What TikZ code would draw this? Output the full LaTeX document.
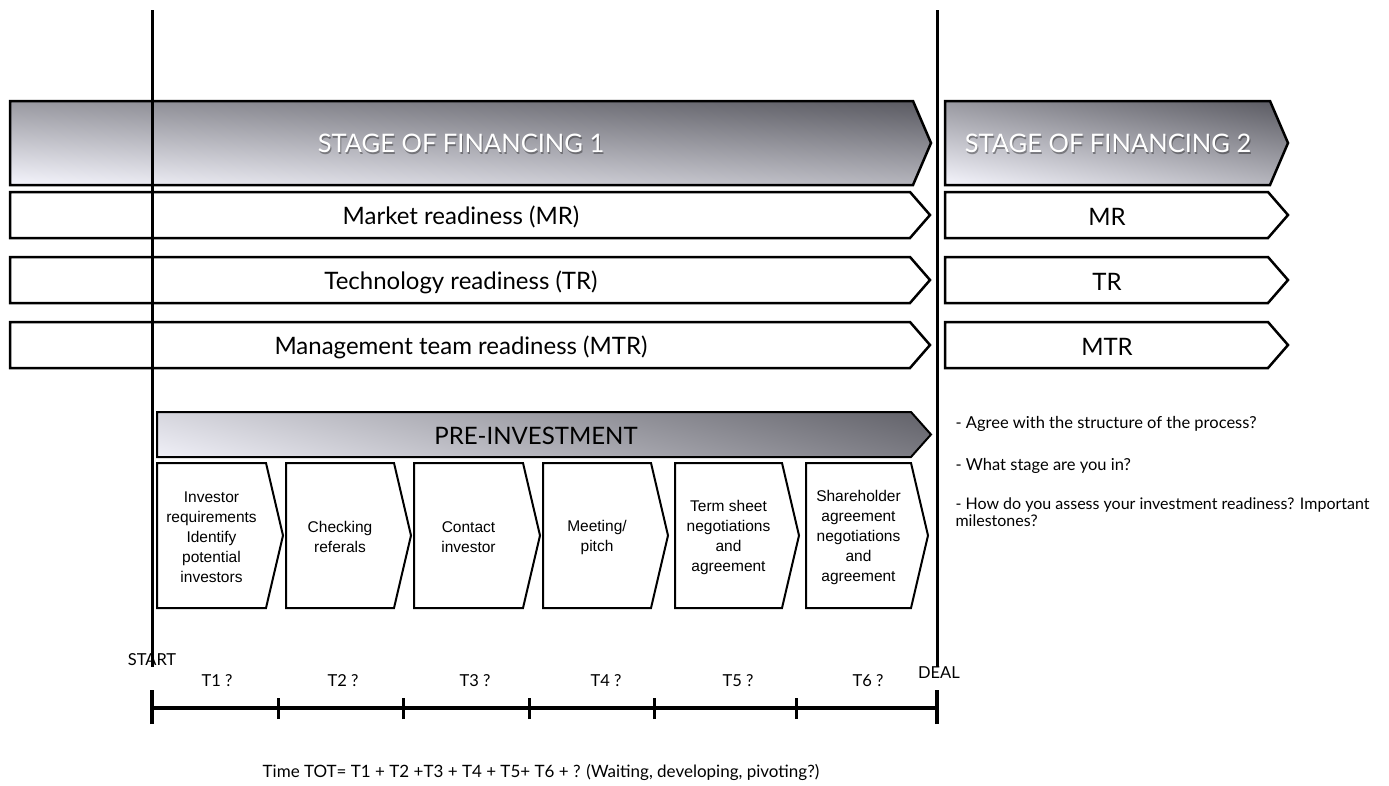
\documentclass[tikz,border=0pt]{standalone}
\usepackage{fontspec}
\setmainfont{Lato}
\newfontfamily\helv{Liberation Sans}
\usetikzlibrary{positioning}

% grey, darker towards the top right
\pgfdeclarefunctionalshading{stagefade}{\pgfpoint{-50bp}{-50bp}}{\pgfpoint{50bp}{50bp}}{}{
  25 add 50 div -0.36 mul exch 25 add 50 div -0.25 mul add 0.96 add dup dup 0.03 add}
% grey, darker towards the right
\pgfdeclarefunctionalshading{prefade}{\pgfpoint{-50bp}{-50bp}}{\pgfpoint{50bp}{50bp}}{}{
  25 add 50 div -0.10 mul exch 25 add 50 div -0.46 mul add 0.94 add dup dup 0.03 add}

% outline of an arrow box: left, top, tip, bottom, depth of tip
\newcommand{\chev}[5]{(#1,#2) -- (#3-#5,#2) -- (#3,{(#2+#4)/2}) -- (#3-#5,#4) -- (#1,#4) -- cycle}

\begin{document}
\begin{tikzpicture}[x=1pt,y=-1pt,
  stage/.style={draw,line width=2.5pt,shading=stagefade},
  bar/.style={draw,line width=2.5pt,fill=white},
  stepbox/.style={draw,line width=2pt,fill=white},
  stagetxt/.style={text=white,font=\fontsize{25.5}{30}\selectfont},
  shadowtxt/.style={stagetxt,text=black,text opacity=0.35},
  bartxt/.style={font=\fontsize{24}{28}\selectfont},
  steptxt/.style={align=center,font=\helv\fontsize{15.5}{20}\selectfont},
  small/.style={font=\fontsize{16.5}{17}\selectfont},
  vline/.style={line width=3pt}]
  \useasboundingbox (0,0) rectangle (1389,785);

  % stages
  \draw[stage] \chev{10}{101}{931}{185}{18};
  \node[shadowtxt] at (462,145) {STAGE OF FINANCING 1};
  \node[stagetxt] (fin1) at (461,143) {STAGE OF FINANCING 1};
  \draw[stage] \chev{945}{101}{1288}{185}{18};
  \node[shadowtxt] at (1109,145) {STAGE OF FINANCING 2};
  \node[stagetxt] (fin2) at (1108,143) {STAGE OF FINANCING 2};

  % readiness rows
  \foreach \y/\lbl/\short in {215/Market readiness (MR)/MR,
      280/Technology readiness (TR)/TR,
      345/Management team readiness (MTR)/MTR} {
    \draw[bar] \chev{10}{\y-23}{930}{\y+23}{20};
    \node[bartxt] (row\short) at (461,\y+2) {\lbl};
    \draw[bar] \chev{945}{\y-23}{1288}{\y+23}{20};
    \node[bartxt] (next\short) at (1107,\y+2) {\short};
  }

  % pre-investment
  \draw[stage,shading=prefade,line width=2pt] \chev{157}{412}{931}{457}{20};
  \node[bartxt] (pre) at (536,436) {PRE-INVESTMENT};
  \foreach \n/\l/\r/\txt in {1/157/283/{Investor\\requirements\\Identify\\potential\\investors},
      2/286/411/{Checking\\referals},
      3/414/540/{Contact\\investor},
      4/543/668/{Meeting/\\pitch},
      5/675/799/{Term sheet\\negotiations\\and\\agreement},
      6/806/928/{Shareholder\\agreement\\negotiations\\and\\agreement}} {
    \draw[stepbox] \chev{\l}{463}{\r}{608}{17};
    \node[steptxt] (step\n) at ({(\l+\r-17)/2},537) {\txt};
  }

  % start and deal lines
  \coordinate (starttop) at (152,10);
  \coordinate (startbot) at (152,667);
  \coordinate (dealtop) at (937,10);
  \coordinate (dealbot) at (937,667);
  \draw[vline] (starttop) -- (startbot);
  \draw[vline] (dealtop) -- (dealbot);

  % time line
  \foreach \i/\x in {0/152,1/278,2/403,3/529,4/654,5/796,6/937}
    \coordinate (t\i) at (\x,708);
  \draw[line width=4pt] (t0) -- (t6);
  \foreach \i in {1,...,5}
    \draw[line width=3pt] ([yshift=-11pt]t\i) -- ([yshift=10pt]t\i);
  \draw[line width=3.5pt] ([yshift=-16pt]t0) -- ([yshift=18pt]t0);
  \draw[line width=3.5pt] ([yshift=-16pt]t6) -- ([yshift=18pt]t6);
  \node[small] (start) at (152,660) {START};
  \node[small] (deal) at (939,673) {DEAL};
  \foreach \i/\x in {1/217,2/343,3/475,4/606,5/738,6/868}
    \node[small] (lbl\i) at (\x,681) {T\i\ ?};
  \node[small,font=\fontsize{17}{19}\selectfont] (total) at (541,772)
    {Time TOT= T1 + T2 +T3 + T4 + T5+ T6 + ? (Waiting, developing, pivoting?)};

  % questions
  \node[small,anchor=west] (q1) at (952,424) {- Agree with the structure of the process?};
  \node[small,anchor=west] (q2) at (952,466) {- What stage are you in?};
  \node[small,anchor=north west,align=left,font=\fontsize{16}{17}\selectfont] (q3) at (952,494)
    {- How do you assess your investment readiness? Important\\milestones?};
\end{tikzpicture}
\end{document}
